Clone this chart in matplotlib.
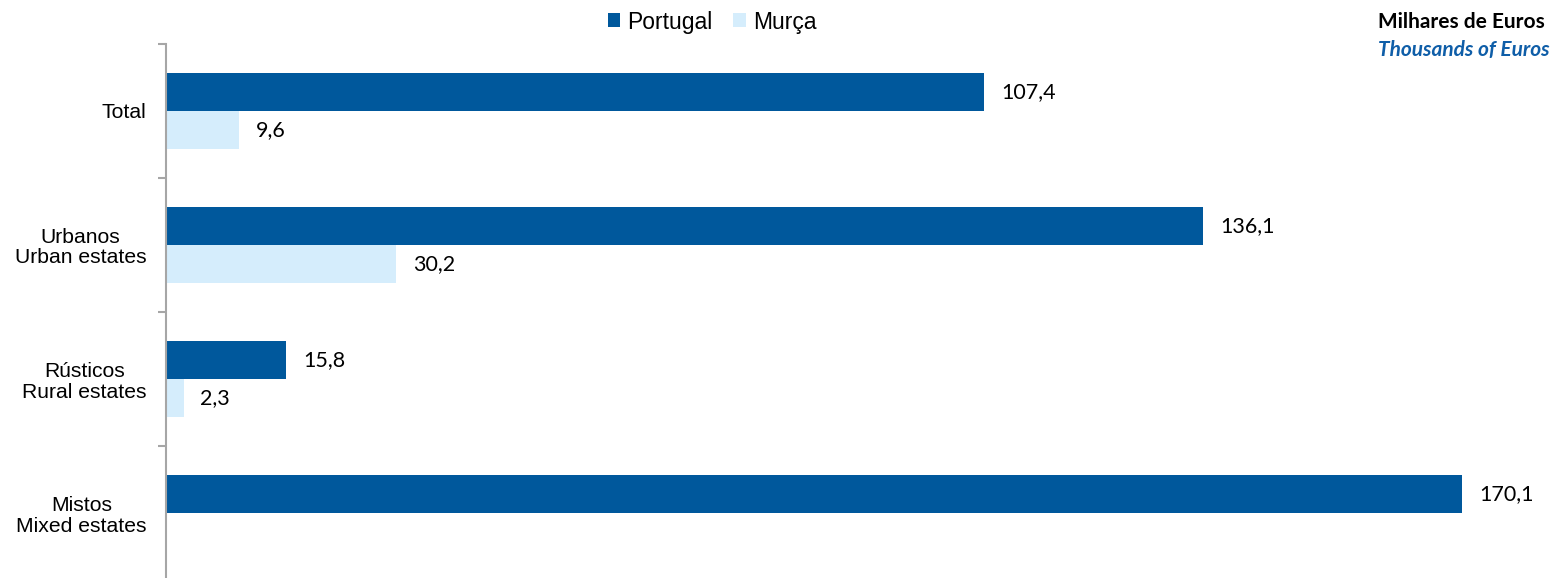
import numpy as np
import matplotlib
matplotlib.use('Agg')
from matplotlib import pyplot as plt

categories = ['Total', 'Urbanos\nUrban estates', 'Rústicos\nRural estates', 'Mistos\nMixed estates']
portugal = [107.4, 136.1, 15.8, 170.1]
murca = [9.6, 30.2, 2.3, None]
series_names = ['Portugal', 'Murça']

dark = '#00589C'
light = '#D5EDFC'

fig = plt.figure(figsize=(15.64, 5.78), dpi=100)
ax = fig.add_axes([166/1564, -0.0035, 1374/1564, 0.9274])

y = np.arange(len(categories))
h = 0.284
pt_vals = np.array(portugal, dtype=float)
mu_vals = np.array([np.nan if v is None else v for v in murca], dtype=float)

b1 = ax.barh(y - h/2, pt_vals, height=h, color=dark, label=series_names[0])
b2 = ax.barh(y + h/2, np.nan_to_num(mu_vals), height=h, color=light, label=series_names[1])

def fmt(v):
    return ('%.1f' % v).replace('.', ',')

# value labels
for yy, v in zip(y - h/2, pt_vals):
    ax.text(v + 2.2, yy, fmt(v), va='center', ha='left', fontsize=15.5, family='Lato')
for yy, v in zip(y + h/2, mu_vals):
    if not np.isnan(v):
        ax.text(v + 2.2, yy, fmt(v), va='center', ha='left', fontsize=15.5, family='Lato')

ax.set_xlim(0, 180.3)
ax.set_ylim(len(categories) - 0.5, -0.5)
ax.set_yticks(y)
ax.set_yticklabels(categories, fontsize=15.2, family='Liberation Sans', multialignment='center',
                   linespacing=1.1)
ax.set_yticks(np.arange(-0.5, len(categories), 1), minor=True)
ax.tick_params(axis='y', which='major', length=0, pad=14)
ax.tick_params(axis='y', which='minor', length=6, width=1.5, color='#A6A6A6', direction='out')
ax.set_xticks([])
for s in ['top', 'right', 'bottom']:
    ax.spines[s].set_visible(False)
ax.spines['left'].set_color('#A6A6A6')
ax.spines['left'].set_linewidth(1.5)

fig.legend(handles=[b1, b2], loc='center', bbox_to_anchor=(712/1564, 1 - 22/578), ncol=2,
           frameon=False, prop={'family': 'Liberation Sans', 'size': 16.5},
           handlelength=0.56, handleheight=0.56, handletextpad=0.3, columnspacing=0.9)

fig.text(1378/1564, 1 - 22/578, 'Milhares de Euros', ha='left', va='center',
         fontsize=15, fontweight='bold', family='Lato')
fig.text(1378/1564, 1 - 50/578, 'Thousands of Euros', ha='left', va='center',
         fontsize=15, fontweight='bold', style='italic', family='Lato', color='#0F5EA8')

fig.savefig('out.png', dpi=100)
